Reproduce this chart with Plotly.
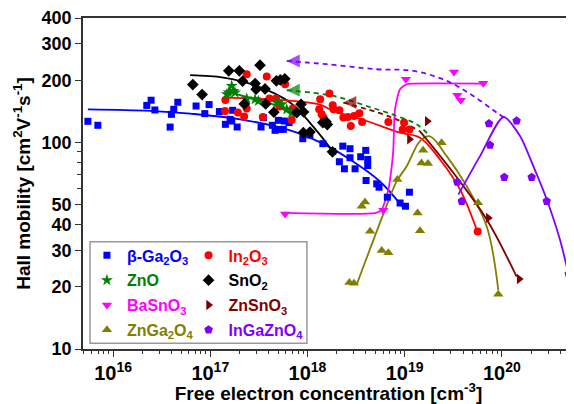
import plotly.graph_objects as go

# ---------------- data ----------------
ga2o3_x = [5.50e15, 6.96e15, 2.22e16, 2.46e16, 2.69e16, 3.86e16, 3.98e16, 4.21e16, 4.63e16, 7.14e16,
           8.78e16, 9.72e16, 1.24e17, 1.43e17, 1.60e17, 1.70e17, 1.66e17, 1.89e17, 3.33e17, 3.52e17,
           4.35e17, 4.64e17, 5.02e17, 5.14e17, 5.65e17, 5.78e17, 6.47e17, 8.95e17, 1.06e18, 1.44e18,
           1.82e18, 2.31e18, 2.74e18, 2.13e18, 2.40e18, 2.74e18, 3.09e18, 3.53e18, 3.98e18, 4.17e18,
           4.17e18, 4.01e18, 5.16e18, 5.45e18, 6.64e18, 8.97e18, 1.02e19, 1.12e19]
ga2o3_y = [126.5, 121, 151, 160, 143.5, 118.6, 136.7, 144.6, 156.4, 150,
           137.8, 152.4, 141, 122.3, 129.3, 143, 126.9, 118.7, 118.7, 131.8,
           121, 114.4, 127.9, 115.6, 115.6, 126.9, 124.7, 104.2, 108.5, 98.6,
           90.4, 95.9, 93.2, 80.6, 74.5, 84.3, 74.5, 85.2, 91.5, 82.7,
           77.3, 65.4, 63.0, 60.7, 54.3, 50.9, 49.1, 57.4]
ga2o3_fit_x = [5.5e15, 2.4e16, 6.2e16, 2.03e17, 6.62e17, 1.35e18, 2.74e18, 5.58e18, 9.63e18]
ga2o3_fit_y = [144.6, 142.2, 137.8, 129.3, 114.4, 100, 82.7, 64.7, 48.4]

in2o3_x = [1.42e17, 1.43e17, 1.92e17, 2.23e17, 2.37e17, 2.37e17, 3.47e17, 3.81e17, 4.06e17, 4.75e17,
           5.14e17, 5.89e17, 6.89e17, 7.06e17, 1.35e18, 1.32e18, 1.40e18, 1.46e18, 1.68e18, 1.82e18,
           1.85e18, 2.13e18, 2.34e18, 2.60e18, 2.79e18, 3.01e18, 3.42e18, 3.65e18, 6.80e18, 9.86e18,
           1.12e19, 9.55e18, 5.65e19]
in2o3_y = [141.9, 160.4, 139.4, 133.3, 145.7, 213.8, 132.7, 208.3, 163, 163,
           149, 191.2, 128.3, 145.7, 161.7, 144.6, 136.7, 131.8, 172.3, 151.2,
           144.6, 143, 131.8, 132.7, 120, 134.2, 138.3, 125.5, 125.5, 124.7,
           115.6, 115.6, 37.0]
in2o3_fit_x = [1.43e17, 1.29e18, 1.85e18, 4.07e18, 8.97e18, 1.44e19, 2.31e19, 3.72e19, 5.52e19]
in2o3_fit_y = [164.8, 153, 141.9, 126.9, 111.4, 105.4, 82.7, 59.1, 37.8]

zno_x = [1.66e17, 1.73e17, 1.54e17, 1.48e17, 1.80e17, 2.37e17, 2.89e17, 3.12e17, 4.83e17, 5.44e17, 6.12e17, 6.89e17]
zno_y = [187.7, 177.5, 174.3, 171, 174.3, 163, 161.7, 158.6, 155.9, 153, 144.6, 139.4]
zno_fit_x = [1.42e17, 2.89e17, 4.64e17, 7.28e17]
zno_fit_y = [177, 161.7, 151.2, 133.7]
zno_arrow_x = [6.12e17, 1.85e18, 4.07e18, 8.29e18, 1.33e19, 1.82e19]
zno_arrow_y = [178.8, 167.8, 150, 134.2, 122.3, 107.3]

sno2_x = [6.61e16, 8.24e16, 1.55e17, 1.99e17, 2.15e17, 2.24e17, 3.25e17, 2.89e17, 2.96e17, 3.66e17,
          3.71e17, 4.79e17, 5.26e17, 5.84e17, 4.51e17, 7.76e17, 8.59e17, 9.12e17, 9.07e17, 1.06e18,
          1.44e18, 1.55e18, 1.60e18, 1.81e18]
sno2_y = [190.5, 170.4, 221.9, 221.9, 197.8, 153.5, 236.4, 192.7, 180.8, 181.4,
          153.5, 198.5, 200.6, 203, 139.9, 139.4, 152.9, 140.3, 111.4, 112.2,
          124.7, 126, 121.9, 90]
sno2_fit_x = [6.2e16, 1.36e17, 3.0e17, 6.62e17, 1.29e18, 1.85e18]
sno2_fit_y = [211.5, 206, 187.7, 155.9, 111.4, 89.1]

basno3_x = [5.89e17, 6.04e18, 1.03e19, 3.22e19, 6.45e19, 3.48e19, 3.78e19]
basno3_y = [45.0, 46.9, 202.2, 219.4, 193.4, 169.1, 159.9]
basno3_fit_x = [5.89e17, 5.08e18, 5.81e18, 6.80e18, 7.37e18, 7.65e18, 7.96e18, 8.97e18, 1.05e19, 1.23e19, 6.56e19]
basno3_fit_y = [45.6, 45.6, 47.3, 59.1, 76.7, 92.5, 144.6, 180.8, 191.2, 192.7, 192.7]

znsno3_x = [1.12e19, 1.71e19, 7.26e19, 1.51e20]
znsno3_y = [103.5, 126.5, 43.1, 21.8]
znsno3_fit_x = [1.44e19, 3.17e19, 7.0e19, 1.42e20]
znsno3_fit_y = [113.1, 71.3, 42.3, 22.4]
znsno3_arrow_x = [2.34e18, 6.04e18, 8.97e18, 1.44e19]
znsno3_arrow_y = [155.9, 136.7, 126.9, 113.1]

znga2o4_x = [2.70e18, 3.01e18, 3.62e18, 3.91e18, 4.41e18, 5.81e18, 6.80e18, 8.41e18, 1.36e19, 1.44e19,
             1.49e19, 1.74e19, 1.55e19, 2.40e19, 5.69e19, 9.2e19]
znga2o4_y = [21.0, 20.8, 49.1, 51.4, 37.1, 30.0, 29.2, 66.1, 45.5, 37.4,
             79.5, 79.1, 91.5, 99.7, 51.1, 18.4]
znga2o4_fit_x = [3.21e18, 6.29e18, 8.29e18, 1.05e19, 1.44e19, 1.82e19, 2.71e19, 4.35e19, 7.0e19, 9.2e19]
znga2o4_fit_y = [20.5, 47.3, 64.9, 76.7, 101.5, 107, 85.8, 61.4, 39.2, 19.3]

igzo_x = [7.38e19, 1.42e20, 7.56e19, 3.48e19, 3.87e19, 1.06e20, 2.03e20, 2.90e20, 4.88e20]
igzo_y = [123.3, 127.2, 97.0, 64.2, 51.9, 67.8, 67.8, 51.9, 23.0]
igzo_fit_x = [3.57e19, 5.97e19, 1.04e20, 1.54e20, 2.11e20, 2.90e20, 3.97e20, 4.83e20]
igzo_fit_y = [55.9, 85.8, 132.7, 107.3, 76.7, 52.9, 33.8, 23.3]
igzo_arrow_x = [6.12e17, 1.58e18, 5.16e18, 1.23e19, 2.71e19, 5.09e19, 8.87e19, 1.04e20]
igzo_arrow_y = [248, 239, 226, 221.9, 198.5, 167.8, 139.4, 132.7]

y_tick_vals = [10, 20, 30, 40, 50, 100, 200, 300, 400]
y_minor_vals = [60, 70, 80, 90]

# ---------------- figure ----------------
BLUE, RED, GREEN, BLACK = "#0000FF", "#FF0000", "#008000", "#000000"
MAGENTA, MAROON, OLIVE, PURPLE = "#FF00FF", "#800000", "#808000", "#8000FF"
FONT = "Liberation Sans, Arial, sans-serif"

fig = go.Figure()

def fit(x, y, color, dash="solid", smoothing=1.0):
    fig.add_trace(go.Scatter(x=x, y=y, mode="lines", showlegend=False, hoverinfo="skip",
                             line=dict(color=color, width=1.8, dash=dash, shape="spline", smoothing=smoothing)))

def arrow(x, y, color):
    n = len(x)
    fig.add_trace(go.Scatter(x=x, y=y, mode="lines+markers", showlegend=False, hoverinfo="skip",
                             line=dict(color=color, width=1.8, dash="5px,4px", shape="spline"),
                             marker=dict(symbol=["arrow-left"] + ["circle"] * (n - 1),
                                         size=[13] + [0] * (n - 1), color=color,
                                         line=dict(width=0))))

def pts(x, y, color, symbol, size, name, legend, group):
    fig.add_trace(go.Scatter(x=x, y=y, mode="markers", name=f'<span style="color:{color}">{name}</span>',
                             legend=legend, legendgroup=group,
                             marker=dict(symbol=symbol, size=size, color=color, line=dict(width=0))))

# lines
fit(ga2o3_fit_x, ga2o3_fit_y, BLUE)
fit(sno2_fit_x, sno2_fit_y, BLACK)
fit(in2o3_fit_x, in2o3_fit_y, RED)
fit(zno_fit_x, zno_fit_y, GREEN)
fit(basno3_fit_x, basno3_fit_y, MAGENTA, smoothing=0.6)
fit(znga2o4_fit_x, znga2o4_fit_y, OLIVE)
fit(znsno3_fit_x, znsno3_fit_y, MAROON)
fit(igzo_fit_x, igzo_fit_y, PURPLE, smoothing=0.7)
arrow(igzo_arrow_x, igzo_arrow_y, PURPLE)
arrow(zno_arrow_x, zno_arrow_y, GREEN)
arrow(znsno3_arrow_x, znsno3_arrow_y, MAROON)

# points (legend column 1 / column 2)
pts(ga2o3_x, ga2o3_y, BLUE, "square", 7, "β-Ga<sub>2</sub>O<sub>3</sub>", "legend", "g1")
pts(in2o3_x, in2o3_y, RED, "circle", 8, "In<sub>2</sub>O<sub>3</sub>", "legend2", "g2")
pts(zno_x, zno_y, GREEN, "star", 9, "ZnO", "legend", "g3")
pts(sno2_x, sno2_y, BLACK, "diamond", 9, "SnO<sub>2</sub>", "legend2", "g4")
pts(basno3_x, basno3_y, MAGENTA, "triangle-down", 9, "BaSnO<sub>3</sub>", "legend", "g5")
pts(znsno3_x, znsno3_y, MAROON, "triangle-right", 9, "ZnSnO<sub>3</sub>", "legend2", "g6")
pts(znga2o4_x, znga2o4_y, OLIVE, "triangle-up", 9, "ZnGa<sub>2</sub>O<sub>4</sub>", "legend", "g7")
pts(igzo_x, igzo_y, PURPLE, "pentagon", 9, "InGaZnO<sub>4</sub>", "legend2", "g8")

# legend frame
fig.add_shape(type="rect", xref="paper", yref="paper", x0=0.0143, x1=0.456, y0=0.017, y1=0.324,
              line=dict(color="#999999", width=1.5), fillcolor="rgba(0,0,0,0)", layer="below")

legend_common = dict(font=dict(family=FONT, size=16, weight="bold"), bgcolor="rgba(0,0,0,0)",
                     yanchor="top", xanchor="left", itemsizing="trace", tracegroupgap=1)

# the page places the figure 8 px in from the top-left corner; size and margins compensate
fig.update_layout(
    width=566, height=396,
    margin=dict(l=75, r=0, t=10, b=55),
    paper_bgcolor="white", plot_bgcolor="white",
    font=dict(family=FONT, size=16, color="black", weight="bold"),
    legend=dict(x=0.008, y=0.334, **legend_common),
    legend2=dict(x=0.215, y=0.334, **legend_common),
    xaxis=dict(type="log", range=[15.69, 20.743], dtick=1, exponentformat="power",
               showgrid=False, zeroline=False, showline=True, linecolor="#333333", linewidth=1.6,
               mirror=True, ticks="outside", ticklen=6, tickwidth=1.3, tickcolor="#333333",
               minor=dict(ticks="outside", ticklen=3, tickwidth=1, tickcolor="#333333", dtick="D1", showgrid=False),
               tickfont=dict(family=FONT, size=16, weight="bold"),
               title=dict(text="Free electron concentration [cm<sup>-3</sup>]", standoff=6,
                          font=dict(family=FONT, size=19, weight="bold"))),
    yaxis=dict(type="log", range=[1, 2.60206], tickvals=y_tick_vals, ticktext=[str(v) for v in y_tick_vals],
               showgrid=False, zeroline=False, showline=True, linecolor="#333333", linewidth=1.6,
               mirror=False, ticks="outside", ticklen=6, tickwidth=1.3, tickcolor="#333333",
               minor=dict(ticks="outside", ticklen=4, tickwidth=1, tickcolor="#333333", tickvals=y_minor_vals, showgrid=False),
               tickfont=dict(family=FONT, size=18, weight="bold"),
               title=dict(text="Hall mobility [cm<sup>2</sup>V<sup>-1</sup>s<sup>-1</sup>]", standoff=6,
                          font=dict(family=FONT, size=19, weight="bold"))),
)

fig.write_html("out.html")
